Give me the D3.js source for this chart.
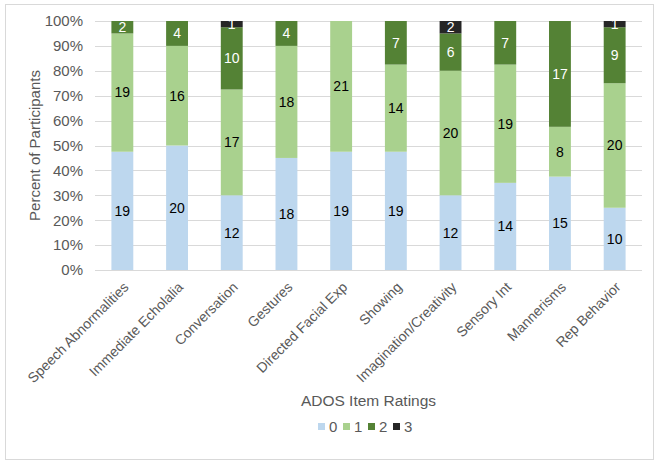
<!DOCTYPE html>
<html>
<head>
<meta charset="utf-8">
<script src="https://cdn.jsdelivr.net/npm/d3@7"></script>
<style>
  body { margin: 0; background: #fff; }
  svg { font-family: "Liberation Sans", Arial, sans-serif; }
</style>
</head>
<body>
<svg width="663" height="466"></svg>
<script>
const categories = ['Speech Abnormalities', 'Immediate Echolalia', 'Conversation', 'Gestures',
  'Directed Facial Exp', 'Showing', 'Imagination/Creativity', 'Sensory Int', 'Mannerisms', 'Rep Behavior'];
const ratings = ['0', '1', '2', '3'];
const rating0 = [19, 20, 12, 18, 19, 19, 12, 14, 15, 10];
const rating1 = [19, 16, 17, 18, 21, 14, 20, 19, 8, 20];
const rating2 = [2, 4, 10, 4, 0, 7, 6, 7, 17, 9];
const rating3 = [0, 0, 1, 0, 0, 0, 2, 0, 0, 1];
const yTicks = [0, 0.1, 0.2, 0.3, 0.4, 0.5, 0.6, 0.7, 0.8, 0.9, 1];

const colors = { '0': '#bdd7ee', '1': '#a9d18e', '2': '#548235', '3': '#262626' };
const labelColor = { '0': '#000', '1': '#000', '2': '#fff', '3': '#fff' };

const svg = d3.select('svg');
const margin = { left: 95, right: 21, top: 21, bottom: 196 };
const W = 663, H = 466;
const innerW = W - margin.left - margin.right;
const innerH = H - margin.top - margin.bottom;

// border
svg.append('rect').attr('x', 5.5).attr('y', 4.5).attr('width', 648).attr('height', 455)
  .attr('fill', '#fff').attr('stroke', '#d9d9d9');

const g = svg.append('g').attr('transform', `translate(${margin.left},${margin.top})`);

const table = categories.map((c, i) => {
  const row = { cat: c, '0': rating0[i], '1': rating1[i], '2': rating2[i], '3': rating3[i] };
  row.total = rating0[i] + rating1[i] + rating2[i] + rating3[i];
  return row;
});
const series = d3.stack().keys(ratings)
  .value((d, k) => d[k] / d.total)(table);

const x = d3.scaleBand().domain(categories).range([0, innerW]).paddingInner(0.6).paddingOuter(0.3);
const y = d3.scaleLinear().domain([0, 1]).range([innerH, 0]);

// grid
g.selectAll('line.grid').data(yTicks).join('line')
  .attr('class', 'grid')
  .attr('x1', 0).attr('x2', innerW)
  .attr('y1', d => Math.round(y(d)) + 0.5).attr('y2', d => Math.round(y(d)) + 0.5)
  .attr('stroke', '#d9d9d9');

// y axis
const yAxis = g.append('g').call(d3.axisLeft(y).tickValues(yTicks).tickFormat(d3.format('.0%')).tickSize(0).tickPadding(12));
yAxis.select('.domain').remove();
yAxis.selectAll('text').attr('fill', '#595959').style('font-size', '15px');

// bars
const layers = g.selectAll('g.layer').data(series).join('g')
  .attr('class', 'layer').attr('fill', d => colors[d.key]);
layers.selectAll('rect').data(d => d).join('rect')
  .attr('x', d => x(d.data.cat))
  .attr('width', x.bandwidth())
  .attr('y', d => y(d[1]))
  .attr('height', d => y(d[0]) - y(d[1]));

// value labels
series.forEach(s => {
  g.append('g').selectAll('text').data(s.filter(d => d.data[s.key] > 0)).join('text')
    .attr('x', d => x(d.data.cat) + x.bandwidth() / 2)
    .attr('y', d => (y(d[0]) + y(d[1])) / 2)
    .attr('dy', '0.35em')
    .attr('text-anchor', 'middle')
    .attr('fill', labelColor[s.key])
    .style('font-size', '14px')
    .text(d => d.data[s.key]);
});

// x axis
g.append('line').attr('x1', 0).attr('x2', innerW)
  .attr('y1', innerH + 0.5).attr('y2', innerH + 0.5).attr('stroke', '#d9d9d9');
const xAxis = g.append('g').attr('transform', `translate(0,${innerH})`)
  .call(d3.axisBottom(x).tickSize(0).tickPadding(0));
xAxis.select('.domain').remove();
xAxis.selectAll('text')
  .attr('fill', '#595959').style('font-size', '14px')
  .attr('text-anchor', 'end')
  .attr('dy', 0)
  .attr('transform', 'translate(7,18) rotate(-45)');

// axis titles
svg.append('text')
  .attr('transform', `translate(40,${margin.top + innerH / 2}) rotate(-90)`)
  .attr('text-anchor', 'middle').attr('fill', '#595959').style('font-size', '15px')
  .text('Percent of Participants');
svg.append('text')
  .attr('x', margin.left + innerW / 2).attr('y', 406)
  .attr('text-anchor', 'middle').attr('fill', '#595959').style('font-size', '15.5px')
  .text('ADOS Item Ratings');

// legend
const lg = svg.append('g').attr('transform', 'translate(318,427)');
const item = lg.selectAll('g').data(ratings).join('g')
  .attr('transform', (d, i) => `translate(${i * 25},0)`);
item.append('rect').attr('x', 0).attr('y', -4).attr('width', 7).attr('height', 7)
  .attr('fill', d => colors[d]);
item.append('text').attr('x', 11).attr('y', 0).attr('dy', '0.35em')
  .attr('fill', '#595959').style('font-size', '15px').text(d => d);
</script>
</body>
</html>
